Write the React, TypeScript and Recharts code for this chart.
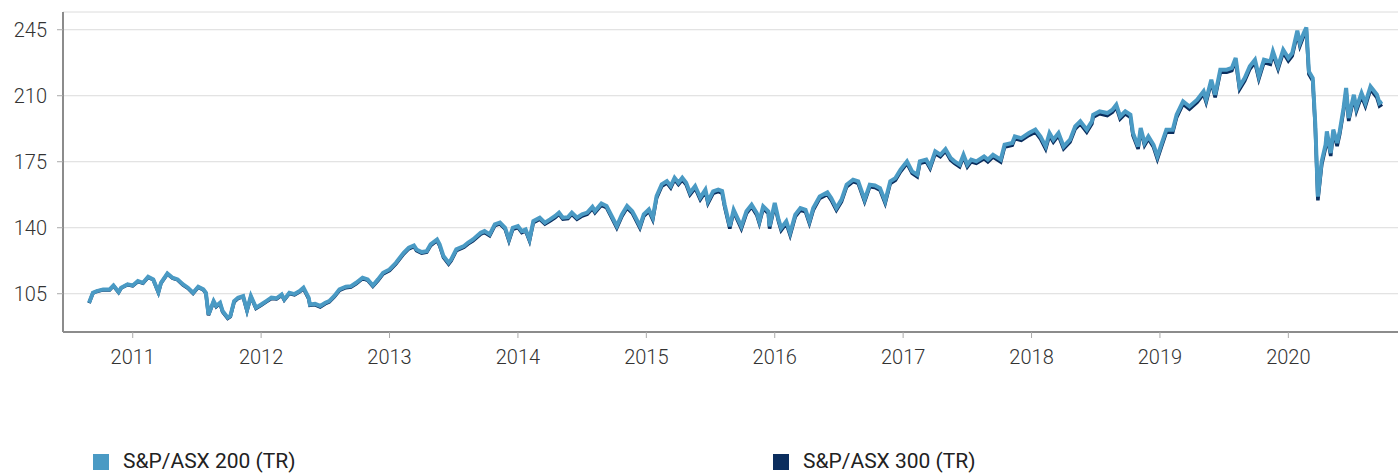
import { LineChart, Line, XAxis, YAxis, CartesianGrid } from 'recharts';

// decimal years
const dates = [
  2010.66, 2010.69, 2010.72, 2010.77, 2010.82, 2010.85, 2010.89, 2010.91, 2010.96,
  2011.0, 2011.04, 2011.08, 2011.12, 2011.16, 2011.2, 2011.22, 2011.27, 2011.31, 2011.35,
  2011.39, 2011.43, 2011.47, 2011.51, 2011.55, 2011.57, 2011.59, 2011.63, 2011.65, 2011.68,
  2011.7, 2011.74, 2011.76, 2011.79, 2011.82, 2011.86, 2011.89, 2011.92, 2011.96,
  2012.0, 2012.04, 2012.08, 2012.12, 2012.16, 2012.18, 2012.22, 2012.26, 2012.3, 2012.33,
  2012.37, 2012.38, 2012.42, 2012.46, 2012.5, 2012.53, 2012.57, 2012.61, 2012.66, 2012.7,
  2012.74, 2012.79, 2012.83, 2012.87, 2012.91, 2012.95,
  2013.0, 2013.05, 2013.11, 2013.15, 2013.19, 2013.21, 2013.25, 2013.29, 2013.32, 2013.37,
  2013.39, 2013.42, 2013.46, 2013.48, 2013.52, 2013.58, 2013.61, 2013.65, 2013.71, 2013.74,
  2013.78, 2013.82, 2013.86, 2013.9, 2013.93, 2013.96,
  2014.0, 2014.03, 2014.06, 2014.09, 2014.12, 2014.17, 2014.21, 2014.25, 2014.29, 2014.32,
  2014.35, 2014.39, 2014.42, 2014.46, 2014.5, 2014.54, 2014.58, 2014.6, 2014.65, 2014.69,
  2014.73, 2014.77, 2014.81, 2014.85, 2014.89, 2014.91, 2014.95, 2014.98,
  2015.02, 2015.05, 2015.08, 2015.12, 2015.16, 2015.19, 2015.22, 2015.25, 2015.28, 2015.31,
  2015.34, 2015.38, 2015.42, 2015.46, 2015.48, 2015.52, 2015.56, 2015.59, 2015.61, 2015.65,
  2015.68, 2015.71, 2015.74, 2015.78, 2015.82, 2015.86, 2015.88, 2015.91, 2015.95, 2015.96,
  2016.0, 2016.03, 2016.05, 2016.09, 2016.12, 2016.16, 2016.2, 2016.24, 2016.27, 2016.3,
  2016.35, 2016.41, 2016.44, 2016.48, 2016.52, 2016.56, 2016.61, 2016.65, 2016.7, 2016.74,
  2016.78, 2016.82, 2016.86, 2016.9, 2016.94, 2016.98,
  2017.03, 2017.07, 2017.11, 2017.13, 2017.18, 2017.21, 2017.25, 2017.29, 2017.33, 2017.37,
  2017.4, 2017.44, 2017.47, 2017.5, 2017.53, 2017.57, 2017.63, 2017.66, 2017.7, 2017.76,
  2017.79, 2017.85, 2017.87, 2017.92, 2017.98,
  2018.03, 2018.07, 2018.11, 2018.14, 2018.17, 2018.21, 2018.25, 2018.3, 2018.34, 2018.38,
  2018.43, 2018.47, 2018.48, 2018.53, 2018.59, 2018.63, 2018.66, 2018.69, 2018.73, 2018.77,
  2018.79, 2018.83, 2018.85, 2018.88, 2018.91, 2018.95, 2018.98,
  2019.01, 2019.05, 2019.1, 2019.13, 2019.18, 2019.23, 2019.29, 2019.34, 2019.36, 2019.4,
  2019.43, 2019.47, 2019.52, 2019.56, 2019.59, 2019.62, 2019.66, 2019.7, 2019.74, 2019.77,
  2019.81, 2019.86, 2019.88, 2019.92, 2019.96,
  2020.0, 2020.03, 2020.07, 2020.09, 2020.12, 2020.14, 2020.16, 2020.19, 2020.21, 2020.23,
  2020.26, 2020.29, 2020.3, 2020.33, 2020.35, 2020.38, 2020.4, 2020.43, 2020.45, 2020.47,
  2020.51, 2020.53, 2020.57, 2020.6, 2020.64, 2020.66, 2020.69, 2020.71, 2020.73,
];

const asx200 = [
  100.2, 105.5, 106.4, 107.3, 107.3, 109.4, 105.9, 108.2, 110.0,
  109.4, 111.7, 110.8, 114.0, 112.6, 105.9, 110.8, 115.8, 113.5, 112.6,
  110.0, 108.2, 105.5, 108.7, 107.3, 105.5, 94.0, 101.1, 98.5, 100.2,
  95.8, 92.3, 93.2, 101.1, 102.9, 103.8, 96.3, 103.8, 97.6,
  99.3, 101.1, 102.9, 102.6, 104.6, 102.0, 105.5, 104.8, 106.4, 108.2,
  102.9, 99.3, 99.6, 98.5, 100.2, 101.1, 103.8, 107.3, 108.7, 109.0,
  110.8, 113.5, 112.6, 109.4, 112.6, 116.1,
  117.9, 121.4, 126.7, 129.4, 130.6, 128.5, 127.1, 127.6, 131.2, 133.8,
  131.2, 125.0, 121.4, 123.2, 128.5, 130.3, 132.0, 133.8, 137.3, 138.2,
  136.5, 141.8, 142.7, 140.0, 133.8, 140.0,
  140.9, 138.2, 139.1, 133.8, 143.5, 145.3, 142.7, 144.4, 146.2, 148.0,
  145.3, 145.6, 148.0, 145.3, 147.1, 148.0, 151.1, 148.8, 152.9, 151.5,
  146.2, 140.9, 147.1, 151.5, 148.8, 146.2, 140.9, 147.1,
  149.7, 145.3, 156.8, 163.0, 164.7, 162.1, 166.5, 163.9, 166.5, 163.9,
  158.6, 162.1, 156.0, 160.2, 154.0, 159.3, 160.2, 159.5, 152.2, 140.7,
  149.5, 145.1, 140.7, 148.7, 152.2, 147.8, 143.4, 151.3, 148.7, 140.7,
  153.1, 144.3, 139.8, 143.4, 137.2, 146.9, 150.4, 149.5, 143.4, 150.4,
  156.6, 158.7, 155.7, 150.4, 154.9, 162.8, 165.5, 164.6, 154.9, 162.8,
  162.4, 161.0, 154.0, 164.6, 166.3, 170.8,
  175.2, 169.9, 168.1, 175.2, 176.1, 172.5, 180.5, 178.7, 181.7, 177.0,
  175.2, 173.4, 178.7, 173.4, 176.1, 175.2, 177.8, 176.1, 178.7, 176.1,
  184.0, 184.9, 188.4, 187.5, 190.2,
  192.0, 188.4, 183.1, 190.2, 186.7, 190.2, 183.1, 186.7, 193.7, 196.4,
  192.0, 196.4, 199.9, 201.7, 200.8, 202.6, 205.2, 199.0, 201.7, 199.9,
  190.2, 183.1, 192.9, 184.9, 188.4, 184.0, 177.8,
  184.0, 192.0, 192.0, 199.9, 207.0, 204.3, 207.9, 212.3, 207.9, 218.5,
  210.5, 223.8, 223.8, 224.7, 230.0, 214.9, 219.4, 225.6, 229.1, 220.3,
  229.1, 228.2, 233.5, 225.6, 234.4,
  230.0, 232.6, 244.5, 237.9, 243.2, 246.2, 222.9, 219.4, 194.6, 156.5,
  175.2, 184.0, 191.1, 179.6, 192.0, 184.9, 191.1, 203.5, 214.1, 198.2,
  210.5, 203.5, 211.4, 206.1, 214.9, 213.2, 210.5, 206.1, 207.0,
];

const asx300 = [
  100.0, 105.3, 106.2, 107.1, 107.0, 109.2, 105.7, 108.0, 109.8,
  109.2, 111.4, 110.6, 113.7, 112.4, 105.6, 110.5, 115.5, 113.2, 112.3,
  109.7, 107.9, 105.2, 108.4, 107.0, 105.2, 93.6, 100.8, 98.1, 99.8,
  95.4, 91.9, 92.8, 100.7, 102.5, 103.4, 95.9, 103.4, 97.2,
  98.9, 100.7, 102.5, 102.2, 104.2, 101.6, 105.1, 104.4, 106.0, 107.7,
  102.4, 98.8, 99.1, 98.0, 99.7, 100.6, 103.3, 106.8, 108.2, 108.5,
  110.3, 113.0, 112.1, 108.9, 112.0, 115.5,
  117.3, 120.8, 126.1, 128.8, 130.0, 127.9, 126.5, 127.0, 130.5, 133.1,
  130.5, 124.3, 120.7, 122.5, 127.8, 129.6, 131.3, 133.1, 136.6, 137.5,
  135.8, 141.1, 142.0, 139.3, 133.0, 139.2,
  140.1, 137.4, 138.3, 133.0, 142.7, 144.5, 141.9, 143.6, 145.4, 147.2,
  144.5, 144.8, 147.2, 144.5, 146.2, 147.1, 150.2, 147.9, 152.0, 150.6,
  145.3, 139.9, 146.1, 150.5, 147.8, 145.2, 139.9, 146.1,
  148.7, 144.3, 155.8, 162.0, 163.7, 161.1, 165.5, 162.9, 165.4, 162.8,
  157.5, 161.0, 154.9, 159.1, 152.9, 158.2, 159.1, 158.4, 151.1, 139.5,
  148.4, 144.0, 139.5, 147.6, 151.1, 146.7, 142.3, 150.2, 147.6, 139.5,
  152.0, 143.2, 138.6, 142.3, 136.0, 145.8, 149.3, 148.4, 142.3, 149.3,
  155.5, 157.6, 154.6, 149.3, 153.8, 161.7, 164.4, 163.5, 153.8, 161.7,
  161.3, 159.9, 152.9, 163.5, 165.2, 169.7,
  174.1, 168.8, 167.0, 174.1, 175.0, 171.4, 179.4, 177.6, 180.6, 175.9,
  174.1, 172.3, 177.6, 172.3, 175.0, 174.1, 176.6, 174.9, 177.5, 174.9,
  182.8, 183.7, 187.2, 186.3, 189.0,
  190.7, 187.1, 181.8, 188.9, 185.4, 188.9, 181.8, 185.4, 192.4, 195.1,
  190.7, 195.1, 198.6, 200.4, 199.5, 201.3, 203.9, 197.7, 200.4, 198.6,
  188.9, 181.8, 191.6, 183.6, 187.1, 182.7, 176.4,
  182.6, 190.6, 190.6, 198.5, 205.6, 202.9, 206.5, 210.9, 206.5, 217.1,
  209.1, 222.4, 222.4, 223.3, 228.6, 213.4, 217.9, 224.1, 227.6, 218.8,
  227.6, 226.7, 232.0, 224.1, 232.9,
  228.5, 231.1, 243.0, 236.4, 241.7, 244.7, 221.4, 217.9, 193.0, 154.5,
  173.5, 182.4, 189.5, 178.0, 190.4, 183.3, 189.5, 201.9, 212.5, 196.6,
  208.9, 201.9, 209.8, 204.5, 213.3, 211.6, 208.9, 204.5, 205.4,
];

const years = [2011, 2012, 2013, 2014, 2015, 2016, 2017, 2018, 2019, 2020];
const yTicks = [105, 140, 175, 210, 245];
const seriesNames = ['S&P/ASX 200 (TR)', 'S&P/ASX 300 (TR)'];

const data = dates.map((t, i) => ({ t, asx200: asx200[i], asx300: asx300[i] }));

const tickStyle = { fontFamily: 'Roboto', fontWeight: 300, fontSize: 20, fill: '#333' };
const legendText = { position: 'absolute' as const, top: 451, fontFamily: 'Roboto', fontSize: 21, lineHeight: '21px', color: '#222', whiteSpace: 'nowrap' as const };

export default function App() {
  return (
    <div style={{ position: 'absolute', left: 0, top: 0, width: 1398, height: 474, overflow: 'hidden', background: '#fff' }}>
      <LineChart width={1398} height={372} data={data} margin={{ top: 12, right: 0, left: 0, bottom: 0 }}>
        <CartesianGrid vertical={false} stroke="#dcdcdc" />
        <XAxis
          dataKey="t"
          type="number"
          domain={[2010.457, 2020.854]}
          allowDataOverflow
          ticks={years}
          tickFormatter={(v) => String(v)}
          height={40}
          tick={tickStyle}
          tickSize={6}
          tickMargin={12}
          axisLine={{ stroke: '#8c8c8c', strokeWidth: 2 }}
          tickLine={{ stroke: '#aaa' }}
        />
        <YAxis
          domain={[84.7, 254.4]}
          allowDataOverflow
          ticks={yTicks}
          width={63}
          tick={tickStyle}
          tickSize={6}
          tickMargin={10}
          axisLine={{ stroke: '#8c8c8c', strokeWidth: 2 }}
          tickLine={{ stroke: '#aaa' }}
        />
        <Line type="linear" dataKey="asx300" stroke="#0b2e5e" strokeWidth={3.5} dot={false} isAnimationActive={false} />
        <Line type="linear" dataKey="asx200" stroke="#4a9ac4" strokeWidth={4} dot={false} isAnimationActive={false} />
      </LineChart>
      <div style={{ position: 'absolute', left: 93, top: 454, width: 16, height: 16, background: '#4a9ac4' }} />
      <div style={{ ...legendText, left: 123 }}>{seriesNames[0]}</div>
      <div style={{ position: 'absolute', left: 773, top: 454, width: 16, height: 16, background: '#0b2e5e' }} />
      <div style={{ ...legendText, left: 803 }}>{seriesNames[1]}</div>
    </div>
  );
}
